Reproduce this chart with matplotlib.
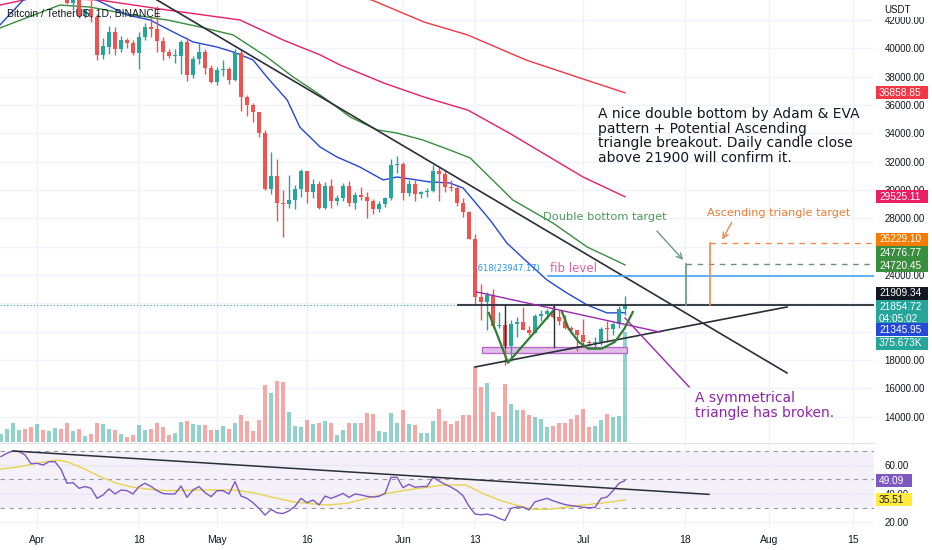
import numpy as np
import pandas as pd
import matplotlib
matplotlib.use("Agg")
import matplotlib.pyplot as plt
from matplotlib.patches import Rectangle

# ---------------- data (BTC/USDT daily) ----------------
base_day = pd.Timestamp("2022-04-01")
dates = pd.date_range("2022-03-26", "2022-07-08")
days = (dates - base_day).days.values.astype(float)

opens = [44331, 44511, 46828, 47128, 47466, 47063, 45539, 46281, 45868, 46453,
         46623, 45555, 43207, 43503, 42287, 42782, 42201, 39521, 40123, 41147,
         39942, 40552, 40378, 39678, 40801, 41493, 41358, 40480, 39709, 39442,
         39451, 40427, 38113, 39236, 39742, 38596, 37630, 38469, 38525, 37728,
         39690, 36552, 36013, 35472, 34039, 30075, 31017, 29104, 29031, 29287,
         30087, 31329, 29875, 30425, 28716, 30319, 29201, 29446, 30294, 29110,
         29655, 29542, 29201, 28629, 29031, 29469, 31735, 31802, 29806, 30453,
         29700, 29865, 29920, 31374, 31126, 30205, 30110, 29092, 28424, 26574,
         22486, 22136, 22583, 20401, 20469, 19017, 20553, 20711, 20123, 19942,
         21111, 21228, 21490, 21038, 20743, 20280, 20105, 19785, 19270, 19243,
         19298, 20232, 20175, 20565, 21634]
highs = [44843, 46999, 48190, 48097, 47700, 47600, 46720, 47213, 47444, 46890,
         47200, 45555, 43900, 43970, 42800, 43410, 42415, 40699, 41561, 41500,
         40870, 40709, 40595, 41116, 41760, 42199, 42976, 40795, 39980, 39940,
         40617, 40797, 39474, 40372, 39925, 38795, 38675, 39167, 38651, 39980,
         39845, 36675, 36146, 35510, 34243, 32659, 32163, 30033, 31083, 30343,
         31460, 31330, 30788, 30666, 30545, 30777, 29656, 30487, 30672, 29834,
         30224, 29856, 29397, 29250, 29530, 32222, 32399, 31983, 30690, 30700,
         29955, 30177, 31765, 31600, 31338, 30700, 30385, 29469, 28544, 26895,
         23362, 22800, 22983, 21365, 20792, 20815, 21036, 21723, 20417, 21233,
         21558, 21614, 21868, 21540, 21200, 20432, 20141, 20876, 19430, 19650,
         20351, 20732, 20675, 21839, 22527]
lows = [44075, 44422, 46663, 46950, 46445, 45200, 44255, 45620, 45530, 45118,
        45353, 43121, 42727, 42107, 42125, 41868, 39200, 39254, 39588, 39551,
        39766, 39991, 39546, 38536, 40571, 40820, 39751, 39177, 39285, 38929,
        38200, 37702, 37881, 38881, 38175, 37578, 37386, 38052, 37500, 37670,
        35571, 35258, 34785, 33713, 30033, 29730, 27785, 26700, 28751, 28630,
        29480, 29088, 29450, 28655, 28670, 28730, 28947, 29255, 28866, 28631,
        29320, 28020, 28282, 28450, 28838, 29300, 31215, 29300, 29594, 29256,
        29450, 29500, 29890, 29218, 29843, 29950, 28850, 28099, 26560, 21925,
        20846, 20111, 20232, 20246, 17622, 17960, 19637, 20348, 19770, 19892,
        20740, 20906, 20950, 20510, 20183, 19850, 18626, 18975, 18979, 18782,
        19055, 19304, 19762, 20240, 21193]
closes = [44511, 46828, 47128, 47465, 47062, 45538, 46281, 45868, 46453, 46623,
          45555, 43206, 43503, 42287, 42782, 42207, 39521, 40127, 41148, 39942,
          40552, 40378, 39678, 40801, 41493, 41358, 40480, 39709, 39441, 39450,
          40426, 38112, 39235, 39742, 38596, 37630, 38468, 38525, 37728, 39690,
          36552, 36013, 35472, 34039, 30076, 31017, 29103, 29030, 29287, 30086,
          31328, 29874, 30424, 28716, 30319, 29201, 29445, 30294, 29110, 29655,
          29542, 29202, 28629, 29031, 29468, 31735, 31802, 29805, 30453, 29700,
          29865, 29920, 31373, 31126, 30205, 30110, 29092, 28424, 26575, 22487,
          22136, 22583, 20401, 20469, 19017, 20553, 20711, 20123, 19942, 21111,
          21228, 21490, 21039, 20743, 20280, 20105, 19785, 19270, 19243, 19298,
          20231, 20175, 20565, 21633, 21855]
volumes_k = [26, 43, 64, 41, 44, 52, 60, 40, 38, 47,
             44, 64, 39, 44, 22, 27, 66, 61, 45, 41,
             27, 18, 24, 58, 41, 45, 64, 50, 24, 30,
             67, 72, 60, 58, 58, 40, 41, 55, 43, 66,
             92, 72, 38, 75, 196, 168, 207, 206, 102, 55,
             50, 75, 61, 64, 72, 64, 24, 40, 66, 64,
             64, 98, 97, 38, 33, 100, 66, 108, 61, 59,
             30, 30, 72, 113, 72, 61, 72, 92, 92, 256,
             188, 203, 102, 88, 197, 129, 110, 109, 92, 85,
             80, 51, 56, 65, 65, 80, 92, 114, 51, 54,
             76, 97, 85, 89, 375.673]
rsi = [66, 68.4, 70, 69.5, 67.2, 61, 61.3, 60.1, 62.4, 62.4,
       57, 47.2, 47.7, 43.7, 44.9, 43.7, 36.6, 39, 43.2, 39.7,
       42.5, 42, 39.7, 44.9, 47.2, 45, 42, 40, 39.7, 39.7,
       45.3, 37.3, 42.5, 44.9, 40.6, 37.8, 42, 42, 39.7, 48.4,
       38.2, 36.6, 33.5, 29.5, 24.8, 28.8, 26.4, 25.9, 27.8, 31,
       36.6, 33.5, 35.4, 31.9, 38.2, 36.6, 38.2, 40.1, 37.3, 39.7,
       39, 38, 37.5, 38, 40.1, 51.4, 51.4, 44.1, 46.5, 44.4,
       44.9, 44.9, 51.4, 48.8, 46.5, 44.5, 42, 38.5, 31, 25.5,
       25, 25.5, 24.5, 22.5, 21, 29.6, 30.5, 30.3, 28.4, 34.2,
       35.4, 36.6, 34.9, 33.5, 32.2, 31.5, 31, 30.3, 30, 30.2,
       36.6, 37.5, 42, 47.2, 49.09]
rsi_ma_days = [-6.2, -2.8, 0.5, 3.3, 5, 7.7, 10.5, 13.3, 16, 18.8, 21.7, 27.2, 32.7,
               36, 39.3, 42.7, 45, 48.3, 51.7, 55, 58.3, 61.7, 65, 67.7, 71.5, 74.3,
               77, 79.8, 82.7, 85.3, 88.2, 91, 93.7, 96, 98]
rsi_ma = [57.1, 58.9, 61.8, 63.6, 62.4, 57.8, 51.9, 47.2, 44.4, 43, 42, 42.5, 42.5,
          40.6, 37.3, 34.2, 33.1, 31.9, 33.1, 36.6, 40.1, 42.5, 44.4, 46, 46, 40.1,
          35.4, 31.9, 28.9, 28.9, 30.3, 31.9, 33.1, 34.2, 35.51]

# moving averages (day offset, price)
blue_days = [-6.2, -2.3, 4, 10, 15, 18.8, 22.7, 26, 30, 32.7, 36, 38.3, 41.7, 43.8,
             47.2, 50, 53.8, 57.7, 60, 62.2, 65.5, 68.8, 71, 72.7, 75.5, 78.3, 81.7,
             85, 88.3, 91.7, 95, 98]
blue_ma = [41640, 43400, 44500, 43400, 42350, 42000, 41150, 40450, 40090, 39740,
           39180, 37980, 36350, 34440, 33030, 32330, 31625, 30710, 30920, 30780,
           30570, 30500, 30145, 29300, 27890, 26265, 24925, 23655, 22740, 21890,
           21330, 21346]
green_days = [-6.2, 3.8, 8.8, 16, 21.7, 27.2, 32.7, 38.3, 42.7, 47.7, 52.2, 56.7,
              60, 64.3, 68.8, 72.2, 79.3, 86, 91.7, 98]
green_ma = [41430, 43050, 42910, 42350, 42000, 41500, 40940, 39390, 37975, 36560,
            35150, 34240, 34020, 33530, 32825, 32260, 29300, 27670, 25980, 24720]
pink_days = [-6.2, 0, 10.5, 21.7, 33.8, 41, 47.2, 50.5, 57.8, 64.5, 71.8, 78.7,
             84.3, 91, 98]
pink_ma = [43050, 43600, 43400, 42700, 42000, 40590, 39530, 38820, 37550, 36560,
           35640, 34020, 32610, 30920, 29525]
red_days = [45, 55.8, 64.5, 71.8, 81.5, 90, 98]
red_ma = [44300, 43407, 41855, 40938, 39175, 37975, 36859]

# drawings
resistance = 21909.34
fib_level = 23947.17
double_bottom_target = 24776.77
asc_triangle_target = 26229.10
last_price = 21854.72
desc_trend = ([20, 125], [43407, 17093])
asc_support = ([73, 125], [17516, 21750])
sym_upper = ([73.3, 103.8], [22806, 19984])
callout = ([98, 108.7], [20973, 16105])
adam = ([75.3, 78.5, 86], [21327, 17820, 21468])
eve = ([87.5, 88.6, 90.3, 91.9, 94.1, 96.3, 97.9, 99.3],
       [21397, 20220, 19280, 18810, 18810, 19280, 20220, 21397])
height_lines = [78, 86.2]
neck_zone = (74.2, 98.3, 18504, 18927)

tick_dates = ["2022-04-01", "2022-04-18", "2022-05-01", "2022-05-16", "2022-06-01",
              "2022-06-13", "2022-07-01", "2022-07-18", "2022-08-01", "2022-08-15"]
tick_names = ["Apr", "18", "May", "16", "Jun", "13", "Jul", "18", "Aug", "15"]
tick_days = (pd.to_datetime(tick_dates) - base_day).days.values
price_ticks = np.arange(14000, 42001, 2000)
hidden_ticks = [20000, 22000, 26000]   # covered by the price tags
rsi_ticks = [20, 40, 60]

UP, DOWN = "#26a69a", "#ef5350"
DARK = "#131722"
AXF = "Liberation Sans"

# ---------------- figure ----------------
fig = plt.figure(figsize=(9.32, 5.5), dpi=100)
fig.patch.set_facecolor("white")
W, H = 932.0, 550.0


def box(x0, y0, x1, y1):
    return [x0 / W, 1 - y1 / H, (x1 - x0) / W, (y1 - y0) / H]


ax_vol = fig.add_axes(box(0, 0, 874, 442))
ax = fig.add_axes(box(0, 0, 874, 442), sharex=ax_vol)
ax_rsi = fig.add_axes(box(0, 443, 874, 528), sharex=ax_vol)
ax.patch.set_alpha(0)
ax_vol.set_facecolor("white")

ax.set_xlim(-6.17, 139.5)
ax.set_ylim(12224, 43407)
ax_vol.set_ylim(0, 1509)
ax_rsi.set_ylim(15.7, 75.6)

for a in (ax_vol, ax, ax_rsi):
    for s in a.spines.values():
        s.set_visible(False)
ax_rsi.spines["top"].set_visible(True)
ax_rsi.spines["top"].set_color("#e0e3eb")

# grid
ax_vol.set_xticks(tick_days)
ax_vol.tick_params(length=0, labelbottom=False, labelleft=False)
ax_vol.set_yticks([])
ax_vol.grid(axis="x", color="#f0f3fa", lw=1)
for p in price_ticks:
    ax_vol.axhline((p - 12224) / (43407 - 12224) * 1509, color="#f0f3fa", lw=1, zorder=0)

# volume
o, h, l, c = map(np.array, (opens, highs, lows, closes))
up = c >= o
ax_vol.bar(days, volumes_k, width=0.72, color=np.where(up, UP, DOWN), alpha=0.5, lw=0, zorder=2)

# candles
cols = np.where(up, UP, DOWN)
ax.vlines(days, l, h, colors=cols, lw=1, zorder=4)
ax.bar(days, np.maximum(np.abs(c - o), 60), bottom=np.minimum(o, c), width=0.72,
       color=cols, lw=0, zorder=5)

# moving averages
ax.plot(red_days, red_ma, color="#f23645", lw=1, zorder=3)
ax.plot(pink_days, pink_ma, color="#e91e63", lw=1, zorder=3)
ax.plot(green_days, green_ma, color="#388e3c", lw=1, zorder=3)
ax.plot(blue_days, blue_ma, color="#2448d8", lw=1, zorder=3)

# last price line
ax.axhline(last_price, color=UP, lw=0.8, ls=(0, (1, 2)), zorder=2)

# trend drawings
ax.plot(*desc_trend, color="#2a2e39", lw=1.2, zorder=6)
ax.plot(*asc_support, color="#2a2e39", lw=1.2, zorder=6)
ax.plot([70.2, 139.5], [resistance, resistance], color="#2a2e39", lw=1.3, zorder=6)
for d in height_lines:
    ax.plot([d, d], [neck_zone[3], resistance], color="#2a2e39", lw=1, zorder=6)
ax.plot(*sym_upper, color="#9c27b0", lw=1, zorder=6)
ax.plot(*callout, color="#9c27b0", lw=1, zorder=6)
ax.add_patch(Rectangle((neck_zone[0], neck_zone[2]), neck_zone[1] - neck_zone[0],
                       neck_zone[3] - neck_zone[2], facecolor="#e1bee7",
                       edgecolor="#ba68c8", lw=1, zorder=3))
ax.plot(*adam, color="#2e7d32", lw=1.6, zorder=7)
ax.plot(*eve, color="#2e7d32", lw=1.6, zorder=7)

# fib + targets
ax.plot([85.2, 139.5], [fib_level, fib_level], color="#42a5f5", lw=1.2, zorder=6)
ax.text(73, 24479, ".618(23947.17)", color="#2196f3", fontsize=6, va="center", zorder=3)
ax.text(85.5, 24479, "fib level", color="#e0609d", fontsize=8.5, va="center", zorder=8)

ax.plot([108.2, 108.2], [resistance, double_bottom_target], color="#5f9e6e", lw=1.2, zorder=6)
ax.plot([108.2, 139.5], [double_bottom_target, double_bottom_target], color="#6d8f7b",
        lw=1, ls=(0, (4, 4)), zorder=6)
ax.plot([112.2, 112.2], [resistance, asc_triangle_target], color="#f0894a", lw=1.2, zorder=6)
ax.plot([112.2, 139.5], [asc_triangle_target, asc_triangle_target], color="#f0894a",
        lw=1, ls=(0, (4, 4)), zorder=6)
ax.annotate("", xy=(108.0, 24923), xytext=(103, 27253),
            arrowprops=dict(arrowstyle="->", color="#6d9c7d", lw=1), zorder=6)
ax.annotate("", xy=(114, 26336), xytext=(116, 27888),
            arrowprops=dict(arrowstyle="->", color="#f0894a", lw=1), zorder=6)
ax.text(84.3, 28098, "Double bottom target", color="#4f9a5a", fontsize=8.2, va="center", zorder=8)
ax.text(111.7, 28380, "Ascending triangle target", color="#f07a32", fontsize=8.1, va="center", zorder=8)

ax.text(93.5, 33813, "A nice double bottom by Adam & EVA\npattern + Potential Ascending\n"
        "triangle breakout. Daily candle close\nabove 21900 will confirm it.",
        color=DARK, fontsize=10, va="center", ha="left", linespacing=1.05, zorder=8)
ax.text(109.7, 14800, "A symmetrical\ntriangle has broken.", color="#8e24aa",
        fontsize=10, va="center", ha="left", linespacing=1.05, zorder=8)

# axis ticks
ax.yaxis.tick_right()
ax.set_yticks(price_ticks)
ax.set_yticklabels(["" if p in hidden_ticks else f"{p:.2f}" for p in price_ticks],
                   fontsize=7, color=DARK, fontfamily=AXF)
ax.tick_params(axis="y", length=0, pad=7.5)
ax.tick_params(axis="x", length=0, labelbottom=False)

# RSI
ax_rsi.axhspan(30, 70, color="#7e57c2", alpha=0.08, lw=0)
for lv in rsi_ticks:
    ax_rsi.axhline(lv, color="#f0f3fa", lw=1, zorder=0)
for lv in (70, 50, 30):
    ax_rsi.axhline(lv, color="#9598a1", lw=0.8, ls=(0, (4, 4)), zorder=1)
ax_rsi.grid(axis="x", color="#f0f3fa", lw=1)
ax_rsi.plot(rsi_ma_days, rsi_ma, color="#e8d44d", lw=1, zorder=3)
ax_rsi.plot(days, rsi, color="#7e57c2", lw=1, zorder=4)
ax_rsi.plot([-4, 112], [70, 39.4], color="#2a2e39", lw=1.1, zorder=5)
ax_rsi.yaxis.tick_right()
ax_rsi.set_yticks(rsi_ticks)
ax_rsi.set_yticklabels([f"{v:.2f}" for v in rsi_ticks], fontsize=7, color=DARK, fontfamily=AXF)
ax_rsi.tick_params(axis="y", length=0, pad=7.5)
ax_rsi.set_xticks(tick_days)
ax_rsi.set_xticklabels(tick_names, fontsize=7.5, color=DARK, fontfamily=AXF)
ax_rsi.tick_params(axis="x", length=0, pad=5)


# price tags on the scale: fixed-size boxes placed at the value (shifted where they collide)
def tag(axis, value, text, color, dy_px=0, tcolor="white", rows=1, width=52):
    yc = axis.transData.transform((0, value))[1] + dy_px
    top = yc + 6.5
    hgt = 13 * rows
    fig.add_artist(Rectangle((876 / W, (top - hgt) / H), width / W, hgt / H,
                             transform=fig.transFigure, facecolor=color, edgecolor="none",
                             zorder=20))
    for i, line in enumerate(text.split("\n")):
        fig.text(879 / W, (yc - 12 * i) / H, line, fontsize=7.3, fontfamily=AXF,
                 color=tcolor, va="center", ha="left", zorder=21)


# white strip behind the "USDT" caption
fig.add_artist(Rectangle((875 / W, 1 - 17 / H), 57 / W, 17 / H, transform=fig.transFigure,
                         facecolor="white", edgecolor="none", zorder=19))
fig.text(884 / W, 1 - 10 / H, "USDT", fontsize=7, fontfamily=AXF, color=DARK, va="center",
         zorder=21)

tag(ax, 36858.85, "36858.85", "#f23645")
tag(ax, 29525.11, "29525.11", "#e91e63")
tag(ax, 26229.10, "26229.10", "#f57c00", 4)
tag(ax, 24776.77, "24776.77", "#388e3c", 11.4)
tag(ax, 24720.45, "24720.45", "#388e3c", -0.8)
tag(ax, 21909.34, "21909.34", DARK, 11.4)
tag(ax, 21854.72, "21854.72\n04:05:02", UP, -1.2, rows=2)
tag(ax, 21345.95, "21345.95", "#2448d8", -17.2)
tag(ax_vol, 375.673, "375.673K", UP, -11.3)
tag(ax_rsi, 49.09, "49.09", "#7e57c2", 0, width=36)
tag(ax_rsi, 35.51, "35.51", "#ffeb3b", 0, tcolor=DARK, width=36)

fig.text(7 / W, 1 - 13 / H, "Bitcoin / TetherUS, 1D, BINANCE", fontsize=7.5, fontfamily=AXF,
         color=DARK, va="center", zorder=30)

fig.savefig("out.png", dpi=100, facecolor="white")
